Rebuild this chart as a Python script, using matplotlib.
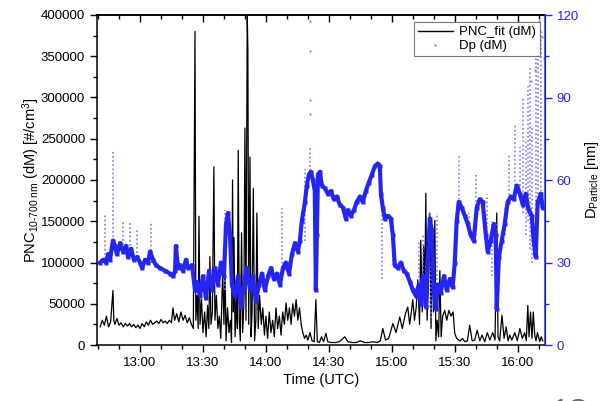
import matplotlib
matplotlib.use("Agg")
import matplotlib.pyplot as plt
from matplotlib.ticker import MultipleLocator, FuncFormatter, FixedLocator
from matplotlib.lines import Line2D

plt.rcParams['font.family'] = ['Liberation Sans', 'DejaVu Sans']
plt.rcParams['mathtext.fontset'] = 'custom'
plt.rcParams['mathtext.rm'] = 'Liberation Sans'
plt.rcParams['mathtext.it'] = 'Liberation Sans'

# ---- PNC_fit (dM): (time in minutes after 12:00, number concentration [#/cm3])
pnc_points = [
    (41, 22000), (42, 30000), (43, 24000), (44, 35000), (45, 22000), (46, 28000), (47.1, 66000), (47.5, 30000),
    (48, 25000), (49, 32000), (50, 24000), (51, 27000), (52, 22000), (53, 26000), (54, 23000), (55, 26000),
    (56, 22000), (57, 25000), (58, 21000), (59, 24000), (60, 20000), (61, 26000), (62, 22000), (63, 28000),
    (64, 24000), (65, 30000), (66, 25000), (67, 27000), (68, 29000), (69, 26000), (70, 31000), (71, 27000),
    (72, 29000), (73, 26000), (74, 30000), (75, 27000), (75.7, 45000), (76.5, 30000), (77.5, 38000),
    (78.5, 28000), (79.5, 40000), (80.5, 30000), (81.5, 36000), (82.5, 27000), (83.5, 33000), (84.5, 25000),
    (85.4, 20000), (86.2, 380000), (86.6, 30000), (87.2, 60000), (87.7, 20000), (88.1, 156000), (88.6, 25000),
    (89.3, 55000), (90, 15000), (90.8, 40000), (91.5, 10000), (92.2, 48000), (92.8, 20000), (93.3, 107000),
    (93.8, 25000), (94.5, 40000), (95.2, 216000), (95.7, 30000), (96.4, 60000), (97.1, 20000), (97.8, 35000),
    (98.5, 8000), (99.4, 90000), (100, 25000), (100.5, 95000), (101, 5000), (101.7, 45000), (102.4, 15000),
    (103.1, 30000), (103.6, 3000), (104.1, 200000), (104.5, 40000), (104.8, 130000), (105.3, 10000),
    (105.9, 60000), (106.4, 20000), (106.8, 236000), (107.3, 30000), (107.8, 5000), (108.4, 136000),
    (108.9, 15000), (109.5, 50000), (110, 263000), (110.5, 30000), (111.1, 400000), (111.4, 357000),
    (111.8, 25000), (112.4, 228000), (112.9, 10000), (113.4, 40000), (114, 190000), (114.6, 5000),
    (115.2, 30000), (115.7, 160000), (116.3, 20000), (117, 60000), (117.8, 25000), (118.5, 45000),
    (119.3, 12000), (120, 35000), (120.8, 8000), (121.6, 40000), (122.4, 15000), (123.2, 30000), (124, 10000),
    (124.8, 45000), (125.6, 20000), (126.4, 35000), (127.2, 12000), (128, 40000), (128.8, 25000),
    (129.6, 51000), (130.4, 30000), (131.2, 45000), (132, 25000), (132.8, 50000), (133.6, 35000),
    (134.4, 55000), (135.2, 30000), (136, 45000), (136.8, 25000), (137.6, 15000), (138.4, 8000),
    (139.2, 12000), (140, 6000), (141, 15000), (142, 5000), (143, 4000), (143.8, 55000), (144.5, 4000),
    (145.5, 3000), (146.5, 10000), (147.5, 4000), (148.6, 14000), (149.5, 4000), (151, 3000), (153, 3000),
    (155, 4000), (157.6, 10000), (159, 4000), (161, 3000), (163, 3000), (165, 5000), (167, 3000), (169, 3000),
    (171, 4000), (173, 3000), (174.5, 5000), (175.7, 20000), (177, 6000), (178.5, 8000), (180.5, 26000),
    (182, 15000), (183.8, 34000), (185, 20000), (186.5, 38000), (187.6, 46000), (188.5, 25000),
    (189.3, 40000), (190, 55000), (190.8, 30000), (191.6, 45000), (192.4, 79000), (193.2, 25000),
    (193.8, 127000), (194.5, 40000), (195.2, 120000), (195.7, 60000), (196.2, 184000), (196.8, 30000),
    (197.4, 70000), (198.1, 160000), (198.7, 20000), (199.2, 136000), (199.8, 40000), (200.5, 151000),
    (201, 5000), (201.6, 30000), (202.3, 10000), (202.9, 90000), (203.5, 10000), (204.2, 35000),
    (205.2, 42000), (206.2, 30000), (207.2, 42000), (208.2, 35000), (209.2, 40000), (210, 14000),
    (210.9, 8000), (211.8, 6000), (212.6, 5000), (213.6, 8000), (214.8, 4000), (216, 5000), (217.1, 24000),
    (218.3, 5000), (219.5, 6000), (220.7, 18000), (221.9, 5000), (223, 12000), (224.3, 4000), (225.5, 15000),
    (226.7, 6000), (228.1, 15000), (229.2, 6000), (230, 160000), (230.6, 10000), (231.4, 5000),
    (232.5, 36000), (233.5, 8000), (234.5, 22000), (235.4, 5000), (236.2, 12000), (237.2, 6000),
    (238.6, 15000), (239.8, 5000), (241, 20000), (242.2, 8000), (243.3, 15000), (244.1, 5000),
    (244.8, 48000), (245.4, 10000), (246.1, 40000), (246.8, 8000), (247.4, 40000), (248.1, 12000),
    (248.7, 5000), (249.4, 15000), (250.5, 4000), (251.2, 10000), (251.9, 5000),
]

# ---- Dp (dM) main trace: (time in minutes after 12:00, diameter [nm])
dp_points = [
    (41, 30), (42.4, 31), (43.8, 30), (44.8, 33), (45.7, 31), (47.1, 38), (48.1, 36), (49, 33), (50.5, 37),
    (51.9, 34), (53.3, 36), (54.3, 32), (55.7, 35), (57.1, 31), (58.6, 32), (60, 30), (61, 28), (62.4, 31),
    (63.8, 30), (64.8, 34), (66.2, 31), (67.6, 29), (69.5, 28), (71.9, 27), (74.3, 26), (75.7, 25), (76.7, 27),
    (77.1, 36), (78.1, 28), (79, 29), (80.5, 27), (81.9, 31), (82.9, 28), (84.8, 29), (86.2, 20), (87.1, 23),
    (88.6, 18), (90, 25), (91.4, 17), (92.9, 27), (94.3, 20), (95.7, 28), (97.1, 22), (98.6, 30), (100, 25),
    (101, 44), (101.9, 48), (102.9, 40), (103.8, 22), (105.2, 18), (106.7, 25), (108.1, 14), (109.5, 22),
    (111, 28), (112.4, 20), (113.8, 25), (115.2, 16), (116.7, 22), (118.1, 26), (119.5, 20), (121, 25),
    (122.4, 28), (123.8, 24), (125.2, 26), (126.7, 22), (128.1, 28), (129.5, 30), (131, 26), (132.4, 33),
    (133.8, 37), (135.2, 34), (136.2, 38), (137.1, 45), (138.6, 52), (139.5, 58), (140.5, 62), (141.4, 63),
    (142.4, 60), (143.3, 56), (143.8, 20), (144.3, 40), (144.8, 62), (145.7, 63), (146.7, 58), (148.1, 57),
    (149.5, 55), (151, 56), (152.4, 53), (153.8, 54), (155.2, 51), (156.7, 50), (158.1, 46), (159, 49),
    (160.5, 47), (161.9, 49), (163.3, 52), (164.8, 54), (166.2, 52), (167.6, 56), (169, 59), (170.5, 62),
    (171.9, 65), (173.3, 66), (174.3, 65), (174.8, 55), (175.7, 50), (176.7, 46), (178.1, 47), (179.5, 46),
    (180.5, 40), (181.4, 29), (182.9, 28), (184.3, 30), (185.7, 27), (187.1, 26), (188.6, 23), (190, 20),
    (191.4, 18), (192.9, 22), (193.8, 15), (194.8, 25), (196.2, 14), (197.1, 30), (198.1, 46), (199, 42),
    (200, 20), (201, 13), (201.9, 22), (203.3, 19), (204.8, 25), (206.2, 20), (207.6, 24), (209, 21), (210, 30),
    (210.9, 45), (211.9, 52), (213.3, 50), (214.8, 47), (216.2, 44), (217.6, 40), (219, 38), (220.5, 50),
    (221.9, 53), (223.3, 52), (224.8, 40), (225.7, 34), (227.1, 38), (228.6, 44), (229.5, 40), (230, 13),
    (231, 32), (232.4, 38), (233.8, 44), (235.2, 52), (236.7, 54), (238.1, 53), (239.5, 58), (241, 55),
    (242.4, 51), (243.8, 55), (245.2, 49), (246.7, 47), (247.6, 38), (248.6, 32), (249.5, 52), (251, 55),
    (251.9, 50),
]

# ---- Dp (dM) scattered vertical streaks of points: (time, lowest, highest)
dp_streaks = [
    (43.2, 30, 48), (47.2, 38, 71), (52, 35, 45), (55, 33, 45), (58.5, 32, 42), (65.2, 30, 45),
    (100.5, 20, 49), (127.5, 25, 50), (138.4, 38, 64), (141, 62, 72), (143.8, 20, 60), (175.5, 24, 50),
    (180.5, 29, 45), (193, 20, 38), (195, 15, 40), (197.5, 14, 48), (198.6, 10, 30), (201.4, 13, 48),
    (212, 50, 69), (217, 40, 48), (220, 40, 62), (225.2, 35, 55), (227.6, 25, 45), (230, 13, 45),
    (234, 40, 50), (236, 53, 70), (238.6, 55, 80), (241, 55, 72), (242.4, 48, 90), (243.8, 40, 75),
    (244.8, 45, 95), (246, 35, 101), (247, 30, 80), (248.6, 40, 105), (249.8, 55, 110), (251.2, 50, 115),
]

# ---- Dp (dM) isolated high points: (time, diameter)
dp_outliers = [(141, 118), (141, 107), (141.2, 89), (141.2, 84), (249, 108), (250, 118), (251.5, 112),
               (252.3, 104), (246.5, 96), (248.2, 100)]

tick_minutes = [60, 90, 120, 150, 180, 210, 240]

pnc_time, pnc_value = zip(*pnc_points)
dp_time, dp_value = zip(*dp_points)
st_time, st_low, st_high = zip(*dp_streaks)
out_time, out_value = zip(*dp_outliers)

BLUE = '#2525f2'
LIGHT = '#7a7aff'

fig = plt.figure(figsize=(6.07, 4.01), dpi=100)
ax = fig.add_axes([97 / 607, 1 - 345 / 401, 448 / 607, 330 / 401])
ax2 = ax.twinx()

ax.plot(pnc_time, pnc_value, color='black', lw=0.9, zorder=3)

ax2.vlines(st_time, st_low, st_high, colors=LIGHT, linestyles=(0, (1, 1.5)), lw=1.2, zorder=1)
ax2.plot(dp_time, dp_value, color=BLUE, lw=3.0, zorder=2,
         marker='s', ms=3, mec='none', mfc=BLUE)
ax2.plot(out_time, out_value, ls='none', marker='s', ms=1.4, color=LIGHT, mec='none', zorder=2)

ax.set_xlim(39.5, 253)
ax.set_ylim(0, 400000)
ax2.set_ylim(0, 120)


def fmt_time(v, pos):
    v = int(round(v))
    return f"{12 + v // 60}:{v % 60:02d}"


ax.xaxis.set_major_locator(FixedLocator(tick_minutes))
ax.xaxis.set_minor_locator(MultipleLocator(10))
ax.xaxis.set_major_formatter(FuncFormatter(fmt_time))
ax.yaxis.set_major_locator(MultipleLocator(50000))
ax.yaxis.set_minor_locator(MultipleLocator(25000))
ax2.yaxis.set_major_locator(MultipleLocator(30))
ax2.yaxis.set_minor_locator(MultipleLocator(15))

ax.tick_params(axis='both', which='major', direction='out', length=5, width=1, labelsize=9.5)
ax.tick_params(axis='both', which='minor', direction='out', length=3, width=1)
ax.tick_params(axis='x', top=False)
ax2.tick_params(axis='y', which='major', direction='out', length=5, width=1, colors=BLUE, labelsize=9.5)
ax2.tick_params(axis='y', which='minor', direction='out', length=3, width=1, colors=BLUE)

top = ax.secondary_xaxis('top')
top.xaxis.set_major_locator(FixedLocator(tick_minutes))
top.xaxis.set_minor_locator(MultipleLocator(10))
top.tick_params(which='major', direction='in', length=5, width=1, labeltop=False)
top.tick_params(which='minor', direction='in', length=3, width=1)
top.spines['top'].set_linewidth(1.1)

for s in ['left', 'bottom', 'top']:
    ax.spines[s].set_linewidth(1.1)
ax2.spines['right'].set_color(BLUE)
ax2.spines['right'].set_linewidth(1.1)
for s in ['left', 'bottom', 'top']:
    ax2.spines[s].set_visible(False)

ax.set_xlabel('Time (UTC)', fontsize=10.5, labelpad=3)
ax.set_ylabel(r'PNC$_{\mathrm{10\text{-}700\ nm}}$ (dM) [#/cm$^{\mathrm{3}}$]', fontsize=10.5, labelpad=-1)
ax2.set_ylabel(r'D$_{\mathrm{Particle}}$ [nm]', fontsize=10.5, labelpad=3)

handles = [Line2D([], [], color='black', lw=1),
           Line2D([], [], ls='none', marker='s', ms=1.5, color=LIGHT, mec='none')]
leg = ax2.legend(handles, ['PNC_fit (dM)', 'Dp (dM)'], loc='upper right', bbox_to_anchor=(0.989, 0.979),
                 borderaxespad=0, fontsize=9.5, frameon=True, fancybox=False, handlelength=2.6,
                 borderpad=0.3, labelspacing=0.15, handletextpad=0.5)
leg.get_frame().set_edgecolor('#555555')
leg.get_frame().set_linewidth(0.8)

# fragments of neighbouring panels cut off at the figure edges
fig.text(-6 / 607, 0.63, r'D$_{\mathrm{Particle}}$ [nm]', rotation=90, ha='center', va='center',
         fontsize=10.5, color='#777777')
fig.text(553 / 607, 1 - 398 / 401, '1C', ha='left', va='top', fontsize=20, color='#666666')

fig.savefig('out.png', dpi=100)
